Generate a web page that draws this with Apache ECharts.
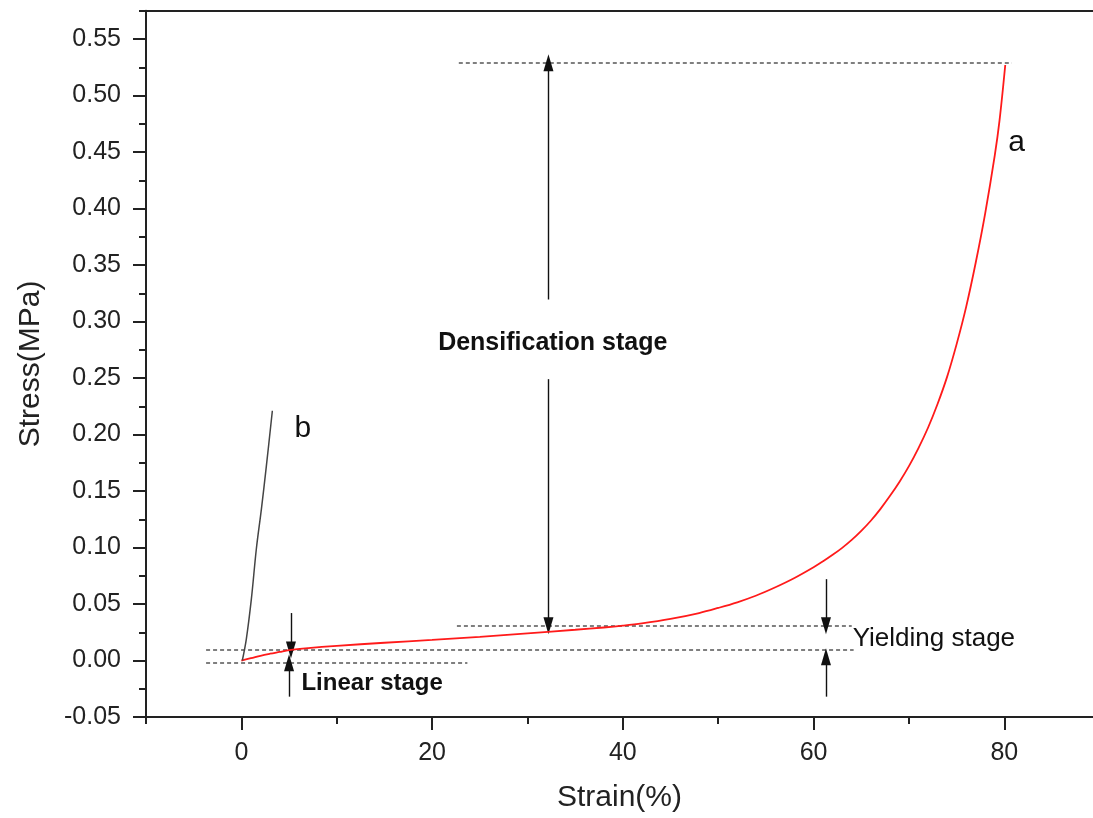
<!DOCTYPE html>
<html><head><meta charset="utf-8">
<script src="https://cdn.jsdelivr.net/npm/echarts@6/dist/echarts.min.js"></script>
<style>html,body{margin:0;padding:0;background:#fff}#c{width:1093px;height:818px}</style>
</head><body><div id="c"></div>
<script>
// ---- data ----
const curveA = [[0,0],[1,0.002],[2,0.0042],[3,0.006],[4,0.0076],[5,0.0092],[7,0.011],[10,0.013],[15,0.0157],[20,0.0183],[25,0.021],[30,0.0241],[35,0.0272],[38,0.0292],[40,0.0308],[42,0.0328],[45,0.0368],[48,0.042],[50,0.0465],[52,0.0515],[54,0.0575],[56,0.0648],[58,0.073],[60,0.0825],[61,0.0878],[62,0.0935],[63,0.0997],[64,0.1067],[65,0.1147],[66,0.1237],[67,0.134],[68,0.1455],[69,0.158],[70,0.172],[71,0.188],[72,0.206],[73,0.227],[74,0.251],[75,0.28],[76,0.313],[77,0.352],[78,0.396],[79,0.447],[79.5,0.478],[80.1,0.527]];
const curveB = [[0.1,0],[0.52,0.019],[1.05,0.0545],[1.57,0.0987],[2.1,0.134],[2.62,0.172],[3.25,0.221]];
const xMajorTicks = [0,20,40,60,80];
const xMinorTicks = [-10,10,30,50,70];
const yMajorTicks = [-0.05,0,0.05,0.10,0.15,0.20,0.25,0.30,0.35,0.40,0.45,0.50,0.55];
const yMinorTicks = [-0.025,0.025,0.075,0.125,0.175,0.225,0.275,0.325,0.375,0.425,0.475,0.525,0.575];
// guide dotted lines: [xStart, xEnd, y]
const guideLines = [[22.8,80.8,0.529],[22.6,64.0,0.0307],[-3.7,64.2,0.0094],[-3.7,23.7,-0.002]];
// arrows: [x, yFrom, yTo(tip)]
const arrows = [[32.2,0.3195,0.529],[32.2,0.249,0.0307],[5.2,0.042,0.0094],[5.0,-0.032,-0.002],[61.3,0.072,0.0307],[61.3,-0.032,0.0033]];
// annotations: [text, x, y]
const notes = [['Densification stage',32.65,0.2807],['Linear stage',6.3,-0.0206],['Yielding stage',64.1,0.0192],['a',81.3,0.458],['b',6.45,0.2047]];
const xName = 'Strain(%)', yName = 'Stress(MPa)';

const FONT = '"Liberation Sans", Arial, sans-serif';
const AX = '#222';
const chart = echarts.init(document.getElementById('c'), null, {renderer:'canvas'});
const noteStyles = [
  {fontWeight:'bold', fontSize:25, align:'center'},
  {fontWeight:'bold', fontSize:24, align:'left'},
  {fontWeight:'normal', fontSize:26, align:'left'},
  {fontWeight:'normal', fontSize:30, align:'center'},
  {fontWeight:'normal', fontSize:30, align:'center'}
];
const xBase = {type:'value', min:-10, max:89.3, splitLine:{show:false}};
const yBase = {type:'value', min:-0.05, max:0.575, position:'left', splitLine:{show:false}};
chart.setOption({
  animation:false,
  grid:{left:146, right:0, top:10.8, bottom:99.7, show:false},
  xAxis:[
    Object.assign({}, xBase, {position:'bottom',
      name:xName, nameLocation:'middle', nameGap:66,
      nameTextStyle:{fontFamily:FONT, fontSize:30, color:AX},
      axisLine:{show:true, onZero:false, lineStyle:{color:AX, width:2}},
      axisTick:{show:true, length:13, lineStyle:{color:AX, width:2}, customValues:xMajorTicks},
      axisLabel:{show:true, margin:24, fontFamily:FONT, fontSize:25, color:AX, customValues:xMajorTicks, formatter:v=>String(v)}
    }),
    Object.assign({}, xBase, {position:'bottom',
      axisLine:{show:false, onZero:false},
      axisTick:{show:true, length:7, lineStyle:{color:AX, width:2}, customValues:xMinorTicks},
      axisLabel:{show:false}
    }),
    Object.assign({}, xBase, {position:'top',
      axisLine:{show:true, onZero:false, lineStyle:{color:AX, width:2}},
      axisTick:{show:false}, axisLabel:{show:false}
    })
  ],
  yAxis:[
    Object.assign({}, yBase, {
      name:yName, nameLocation:'middle', nameGap:100,
      nameTextStyle:{fontFamily:FONT, fontSize:30, color:AX},
      axisLine:{show:true, onZero:false, lineStyle:{color:AX, width:2}},
      axisTick:{show:true, length:13, lineStyle:{color:AX, width:2}, customValues:yMajorTicks},
      axisLabel:{show:true, margin:25, fontFamily:FONT, fontSize:25, color:AX, customValues:yMajorTicks, formatter:v=>v.toFixed(2)}
    }),
    Object.assign({}, yBase, {
      axisLine:{show:false, onZero:false},
      axisTick:{show:true, length:7, lineStyle:{color:AX, width:2}, customValues:yMinorTicks},
      axisLabel:{show:false}
    })
  ],
  series:[
    {type:'line', name:'guides', data:[], silent:true,
      markLine:{silent:true, symbol:['none','none'], label:{show:false},
        lineStyle:{color:'#555', width:1.5, type:[4,3]},
        data: guideLines.map(g=>[{coord:[g[0],g[2]]},{coord:[g[1],g[2]]}])}},
    {type:'line', name:'arrows', data:[], silent:true,
      markLine:{silent:true, symbol:['none','triangle'], symbolSize:[10,17], label:{show:false},
        lineStyle:{color:'#111', width:1.4, type:'solid'}, itemStyle:{color:'#111'},
        data: arrows.map(a=>[{coord:[a[0],a[1]]},{coord:[a[0],a[2]]}])}},
    {type:'line', name:'a', data:curveA, smooth:0.35, showSymbol:false, lineStyle:{color:'#ff1a1a', width:1.8}, z:5},
    {type:'line', name:'b', data:curveB, smooth:0.35, showSymbol:false, lineStyle:{color:'#444', width:1.5}, z:5},
    {type:'scatter', name:'notes', symbolSize:0, silent:true, itemStyle:{opacity:1}, emphasis:{disabled:true},
      data: notes.map((n,i)=>({value:[n[1],n[2]], label:Object.assign({show:true, position:'inside', formatter:n[0], color:'#111', opacity:1, fontFamily:FONT}, noteStyles[i])}))}
  ]
});
</script></body></html>
